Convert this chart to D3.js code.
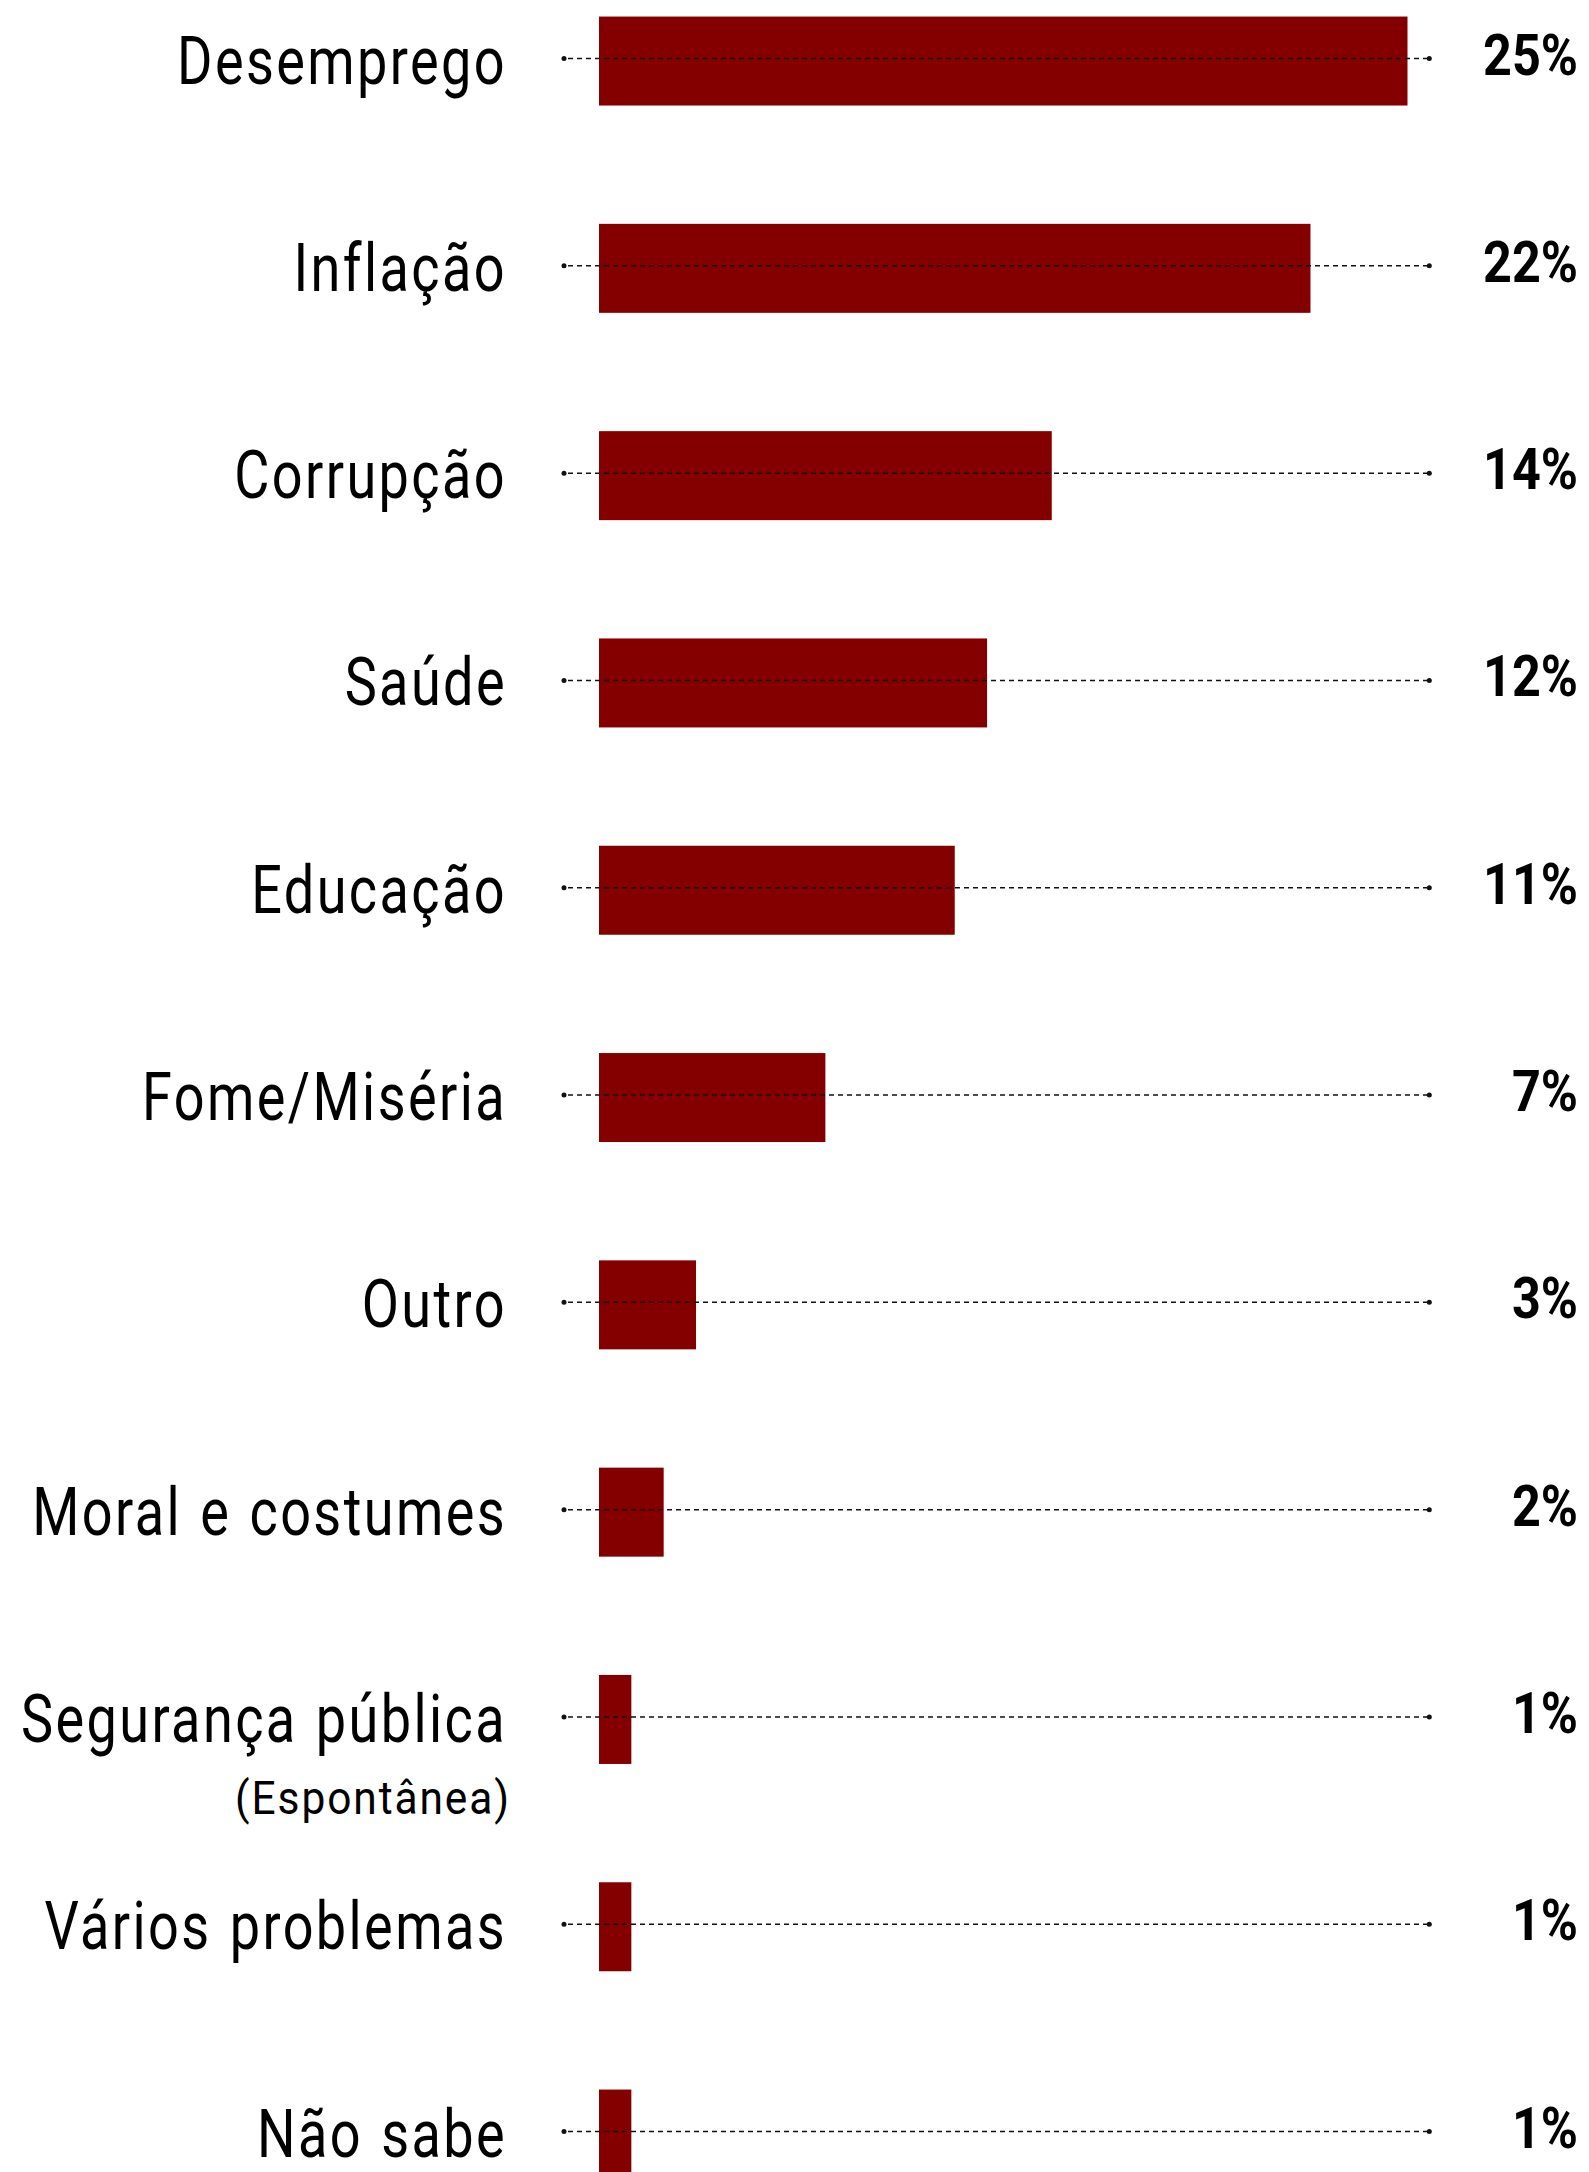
<!DOCTYPE html>
<html>
<head>
<meta charset="utf-8">
<script src="https://cdn.jsdelivr.net/npm/d3@7"></script>
<style>
  html, body { margin: 0; padding: 0; background: #ffffff; }
  svg { display: block; }
</style>
</head>
<body>
<div id="chart"></div>
<script>
// ---- data ----
const categories = [
  "Desemprego", "Inflação", "Corrupção", "Saúde", "Educação",
  "Fome/Miséria", "Outro", "Moral e costumes", "Segurança pública",
  "Vários problemas", "Não sabe"
];
const values = [25, 22, 14, 12, 11, 7, 3, 2, 1, 1, 1];
const valueLabels = ["25%", "22%", "14%", "12%", "11%", "7%", "3%", "2%", "1%", "1%", "1%"];
const subLabels = { "Segurança pública": "(Espontânea)" };

// ---- layout ----
const W = 1589, H = 2172;
const barColor = "#840000";

const svg = d3.select("#chart").append("svg")
  .attr("width", W).attr("height", H)
  .attr("viewBox", `0 0 ${W} ${H}`);

const x = d3.scaleLinear().domain([0, 25]).range([599, 1407.5]);
const y = d3.scaleBand()
  .domain(categories)
  .range([-42.6, -42.6 + 11 * 207.3])
  .paddingInner(0.5707)
  .paddingOuter(0.2853);

const lineX0 = 564, lineX1 = 1429.3;
const lineY = c => y(c) + y.bandwidth() / 2 - 2.5;
const data = categories.map((c, i) => ({ c, v: values[i], label: valueLabels[i] }));

// bars
svg.append("g").selectAll("rect").data(data).join("rect")
  .attr("x", x(0))
  .attr("y", d => y(d.c))
  .attr("width", d => x(d.v) - x(0))
  .attr("height", y.bandwidth())
  .attr("fill", barColor);

// dashed guide lines with dots
const guides = svg.append("g");
guides.selectAll("line").data(data).join("line")
  .attr("x1", lineX0).attr("x2", lineX1)
  .attr("y1", d => lineY(d.c)).attr("y2", d => lineY(d.c))
  .attr("stroke", "#111")
  .attr("stroke-width", 1.5)
  .attr("stroke-dasharray", "5,4")
  .attr("stroke-dashoffset", -4);
guides.selectAll("circle.l").data(data).join("circle").attr("class", "l")
  .attr("cx", lineX0).attr("cy", d => lineY(d.c)).attr("r", 2.5).attr("fill", "#111");
guides.selectAll("circle.r").data(data).join("circle").attr("class", "r")
  .attr("cx", lineX1).attr("cy", d => lineY(d.c)).attr("r", 2.5).attr("fill", "#111");

// category labels (condensed via horizontal scaling)
const labelFont = "Roboto, 'Noto Sans', sans-serif";
const labelRight = 507;
const LS = 3, WS = 3;

function measure(txt, size, weight, ls, ws) {
  const t = svg.append("text")
    .attr("font-family", labelFont).attr("font-size", size).attr("font-weight", weight)
    .style("letter-spacing", ls + "px").style("word-spacing", ws + "px")
    .text(txt);
  const w = t.node().getComputedTextLength();
  t.remove();
  return w;
}
const sxLabel = 330 / measure("Desemprego", 67.5, 400, LS, WS);
const sxSub = 276 / measure("(Espontânea)", 47, 400, LS * 0.7, WS);

const labels = svg.append("g");
labels.selectAll("g.main").data(data).join("g").attr("class", "main")
  .attr("transform", d => `translate(${labelRight},${lineY(d.c) + 25}) scale(${sxLabel},1)`)
  .append("text")
  .attr("text-anchor", "end")
  .attr("font-family", labelFont)
  .attr("font-size", 67.5)
  .attr("font-weight", 400)
  .style("letter-spacing", LS + "px")
  .style("word-spacing", WS + "px")
  .attr("fill", "#000")
  .text(d => d.c);

labels.selectAll("g.sub").data(data.filter(d => subLabels[d.c])).join("g").attr("class", "sub")
  .attr("transform", d => `translate(${labelRight + 4},${lineY(d.c) + 97}) scale(${sxSub},1)`)
  .append("text")
  .attr("text-anchor", "end")
  .attr("font-family", labelFont)
  .attr("font-size", 47)
  .attr("font-weight", 400)
  .style("letter-spacing", (LS * 0.7) + "px")
  .attr("fill", "#000")
  .text(d => subLabels[d.c]);

// value labels (bold condensed)
const valueRight = 1578;
const sxValue = 95 / measure("25%", 58, 700, 0, 0);

svg.append("g").selectAll("g").data(data).join("g")
  .attr("transform", d => `translate(${valueRight},${lineY(d.c) + 16}) scale(${sxValue},1)`)
  .append("text")
  .attr("text-anchor", "end")
  .attr("font-family", labelFont)
  .attr("font-size", 58)
  .attr("font-weight", 700)
  .attr("fill", "#000")
  .text(d => d.label);
</script>
</body>
</html>
